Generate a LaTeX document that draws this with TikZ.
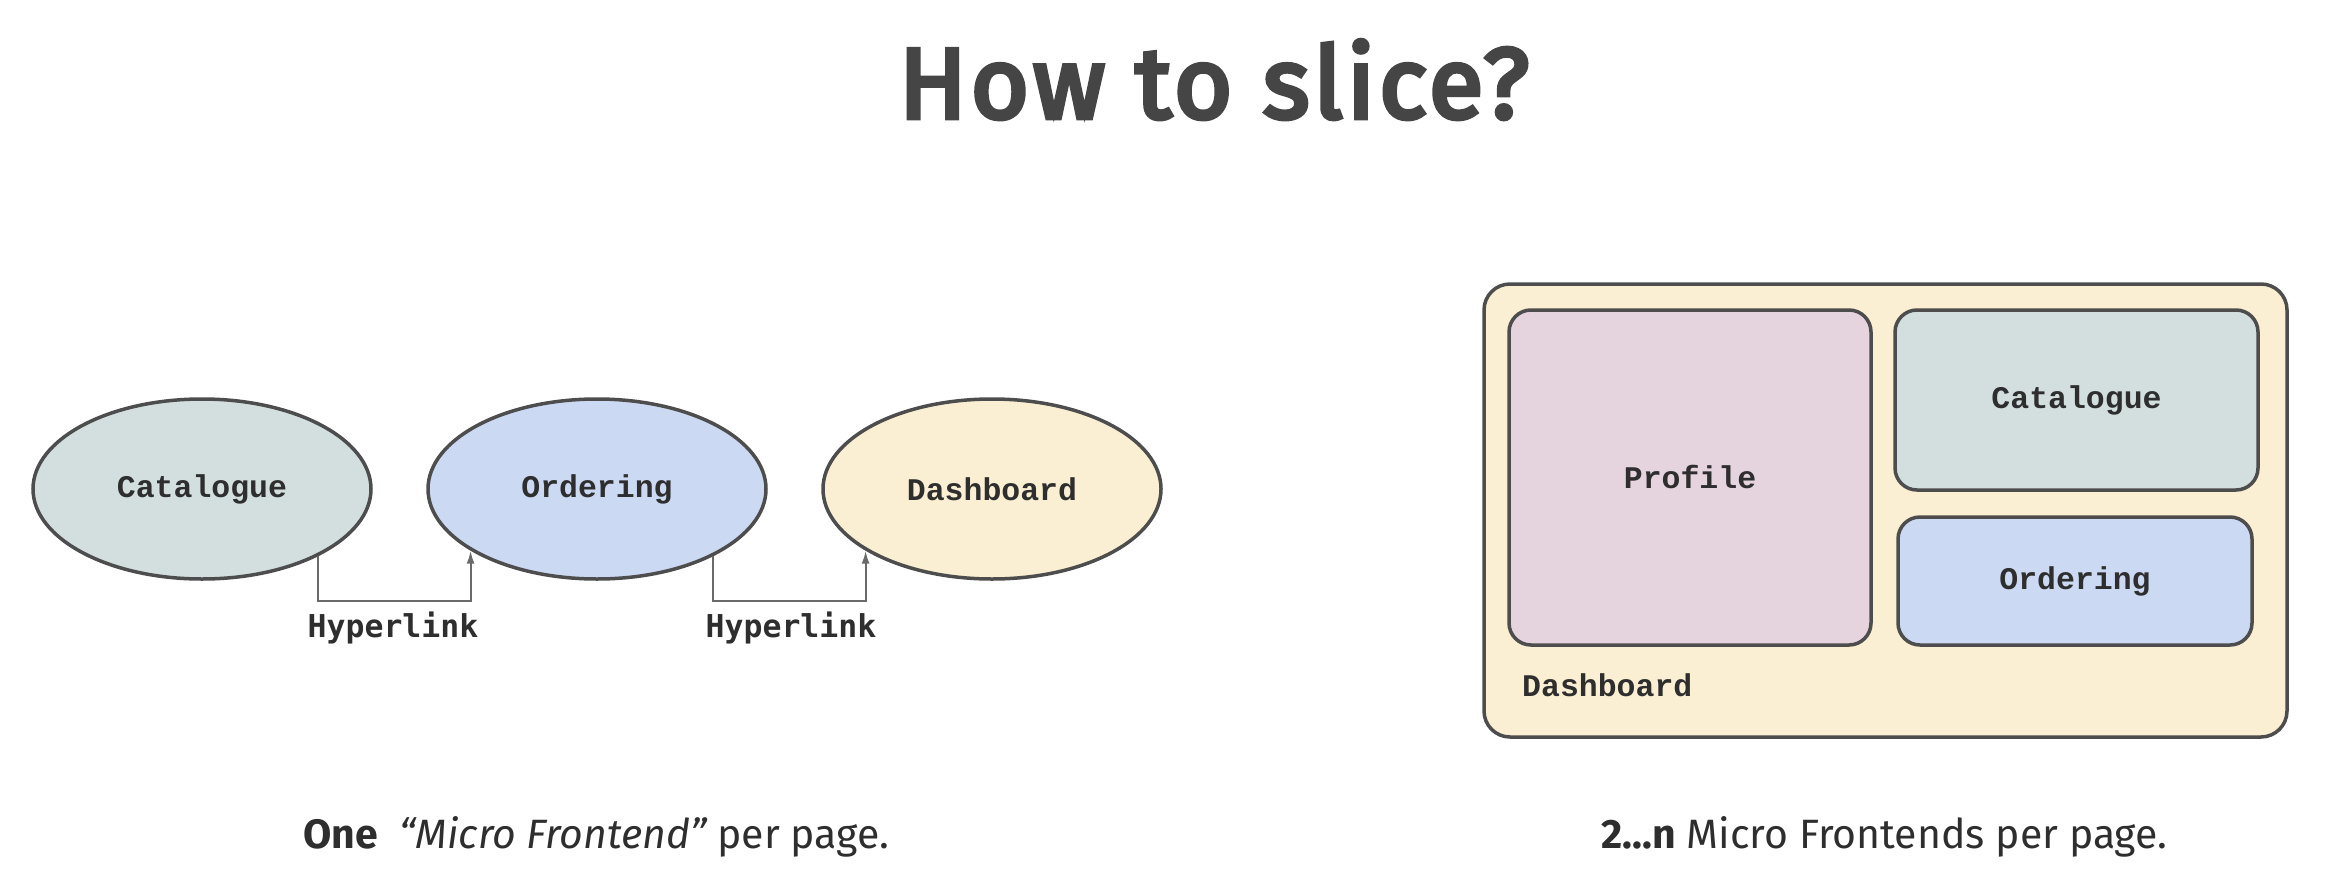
\documentclass[tikz,border=0pt]{standalone}
\usepackage{fontspec}
\setmainfont{Fira Sans}
\newfontfamily\monof{Liberation Mono}
\newfontfamily\linkf{DejaVu Sans Mono}
\newfontfamily\titlef[FakeBold=4.5,LetterSpace=4]{Fira Sans}
\usetikzlibrary{shapes.geometric,arrows.meta}
\definecolor{cataf}{HTML}{D3DFDF}
\definecolor{ordf}{HTML}{CCD9F3}
\definecolor{dashf}{HTML}{FAEFD2}
\definecolor{proff}{HTML}{E5D3DE}
\definecolor{edge}{HTML}{4D4D4D}
\definecolor{conncol}{HTML}{6A6A6A}
\definecolor{txt}{HTML}{2E2E2E}
\definecolor{titlecol}{HTML}{454545}
\tikzset{
  mfe/.style={ellipse, draw=edge, line width=3.5pt, minimum width=338pt, minimum height=180pt, inner sep=0pt,
    font=\monof\bfseries\fontsize{31.5}{36}\selectfont, text=txt},
  panel/.style={rectangle, rounded corners=22pt, draw=edge, line width=3.5pt, inner sep=0pt,
    font=\monof\bfseries\fontsize{31.5}{36}\selectfont, text=txt},
  conn/.style={draw=conncol, line width=2pt, -{Latex[length=13pt,width=8pt]}},
  linklabel/.style={font=\linkf\bfseries\fontsize{31.5}{38}\selectfont, text=txt, anchor=north, inner sep=0pt},
  caption/.style={font=\fontsize{41}{48}\selectfont, text=txt, anchor=base, inner sep=0pt},
}
\begin{document}
\begin{tikzpicture}[x=1pt, y=-1pt]
\useasboundingbox (0,0) rectangle (2329,894);
% title
\node[anchor=base, inner sep=0pt, text=titlecol, font=\titlef\fontsize{100}{110}\selectfont] (title) at (1214,118) {How to slice?};
% left: one MFE per page
\node[mfe, fill=cataf] (cat) at (202,489) {Catalogue};
\node[mfe, fill=ordf] (ord) at (597,489) {Ordering};
\node[mfe, fill=dashf] (dash) at (992,489) {Dashboard};
\coordinate (h1) at (393,601);
\coordinate (h2) at (791,601);
\draw[conn] (cat.-30.7) |- (h1) -| (ord.-154);
\draw[conn] (ord.-30.7) |- (h2) -| (dash.-154);
\node[linklabel] (l1) at (393,612) {Hyperlink};
\node[linklabel] (l2) at (791,612) {Hyperlink};
\node[caption] (cap1) at (596,848) {\bfseries One\mdseries\ \ \itshape “Micro Frontend”\upshape\ per page.};
% right: 2..n MFEs per page
\node[panel, rounded corners=26pt, fill=dashf, minimum width=803pt, minimum height=453pt] (outer) at (1885.5,510.5) {};
\node[panel, fill=proff, minimum width=362pt, minimum height=335pt] (prof) at (1690,477.5) {Profile};
\node[panel, fill=cataf, minimum width=363pt, minimum height=180pt] (cat2) at (2076.5,400) {Catalogue};
\node[panel, fill=ordf, minimum width=354pt, minimum height=128pt] (ord2) at (2075,581) {Ordering};
\node[anchor=west, inner sep=0pt, font=\monof\bfseries\fontsize{31.5}{36}\selectfont, text=txt] (dashlbl) at (1522,685) {Dashboard};
\node[caption] (cap2) at (1884.5,848) {\bfseries 2...n\mdseries\ Micro Frontends per page.};
\end{tikzpicture}
\end{document}
